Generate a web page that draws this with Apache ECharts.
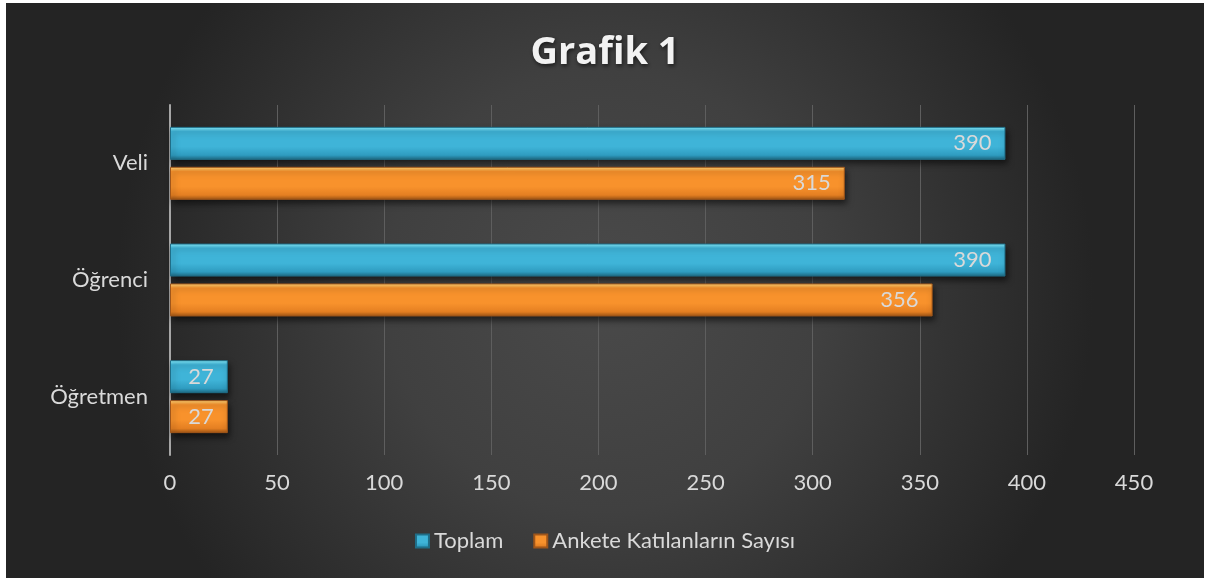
<!DOCTYPE html>
<html>
<head>
<meta charset="utf-8">
<script src="https://cdn.jsdelivr.net/npm/echarts@6/dist/echarts.min.js"></script>
<style>
  html, body { margin: 0; padding: 0; background: #fff; }
  #wrap { position: relative; width: 1208px; height: 580px; }
  #chart { position: absolute; left: 6px; top: 3px; width: 1198px; height: 575px; }
</style>
</head>
<body>
<div id="wrap"><div id="chart"></div></div>
<script>
const categories = ['Öğretmen', 'Öğrenci', 'Veli'];
const toplam = [27, 390, 390];
const ankete = [27, 356, 315];
const xTicks = [0, 450, 50]; // min, max, interval

const font = 'Lato';
const labelColor = '#d9d9d9';

function bevel(light, mid, dark, edge) {
  return {
    type: 'linear', x: 0, y: 0, x2: 0, y2: 1,
    colorStops: [
      { offset: 0, color: light },
      { offset: 0.14, color: mid },
      { offset: 0.6, color: mid },
      { offset: 0.86, color: dark },
      { offset: 1, color: edge }
    ]
  };
}

const blue = bevel('#8bf0ff', '#3fb4d8', '#2f9cc0', '#1d6880');
const orange = bevel('#ffd77a', '#f8922c', '#e47f22', '#9c5314');

const chart = echarts.init(document.getElementById('chart'));

chart.setOption({
  backgroundColor: {
    type: 'radial', x: 0.5, y: 0.5, r: 0.85,
    colorStops: [
      { offset: 0, color: '#4a4a4a' },
      { offset: 0.45, color: '#404040' },
      { offset: 1, color: '#242424' }
    ]
  },
  title: {
    text: 'Grafik 1',
    left: 'center',
    top: 26,
    textStyle: {
      fontFamily: 'Open Sans',
      fontSize: 38,
      fontWeight: 'bold',
      color: '#f2f2f2',
      textShadowColor: 'rgba(0,0,0,0.6)',
      textShadowBlur: 4,
      textShadowOffsetX: 1,
      textShadowOffsetY: 2
    }
  },
  legend: {
    data: ['Toplam', 'Ankete Katılanların Sayısı'],
    left: 'center',
    top: 522,
    itemWidth: 13,
    itemHeight: 13,
    itemGap: 30,
    icon: 'rect',
    textStyle: { fontFamily: font, fontSize: 22, color: labelColor }
  },
  grid: { left: 164, top: 102, width: 964, height: 350, containLabel: false },
  xAxis: {
    type: 'value',
    min: xTicks[0],
    max: xTicks[1],
    interval: xTicks[2],
    axisLine: { show: false },
    axisTick: { show: false },
    axisLabel: { fontFamily: font, fontSize: 22, color: labelColor, margin: 17 },
    splitLine: { lineStyle: { color: '#5e5e5e', width: 1 } }
  },
  yAxis: {
    type: 'category',
    data: categories,
    axisLine: { show: true, lineStyle: { color: '#a6a6a6', width: 2 } },
    axisTick: { show: false },
    axisLabel: { fontFamily: font, fontSize: 22, color: labelColor, margin: 22 }
  },
  series: [
    {
      name: 'Toplam',
      type: 'bar',
      data: toplam,
      barWidth: 33,
      barGap: '21%',
      itemStyle: {
        color: blue,
        borderColor: '#1f6e88',
        borderWidth: 1,
        shadowColor: 'rgba(0,0,0,0.55)',
        shadowBlur: 6,
        shadowOffsetX: 2,
        shadowOffsetY: 4
      },
      label: {
        show: true, position: 'insideRight', distance: 14,
        fontFamily: font, fontSize: 22, color: labelColor
      }
    },
    {
      name: 'Ankete Katılanların Sayısı',
      type: 'bar',
      data: ankete,
      barWidth: 33,
      barGap: '21%',
      itemStyle: {
        color: orange,
        borderColor: '#a0561a',
        borderWidth: 1,
        shadowColor: 'rgba(0,0,0,0.55)',
        shadowBlur: 6,
        shadowOffsetX: 2,
        shadowOffsetY: 4
      },
      label: {
        show: true, position: 'insideRight', distance: 14,
        fontFamily: font, fontSize: 22, color: labelColor
      }
    }
  ]
});
</script>
</body>
</html>
